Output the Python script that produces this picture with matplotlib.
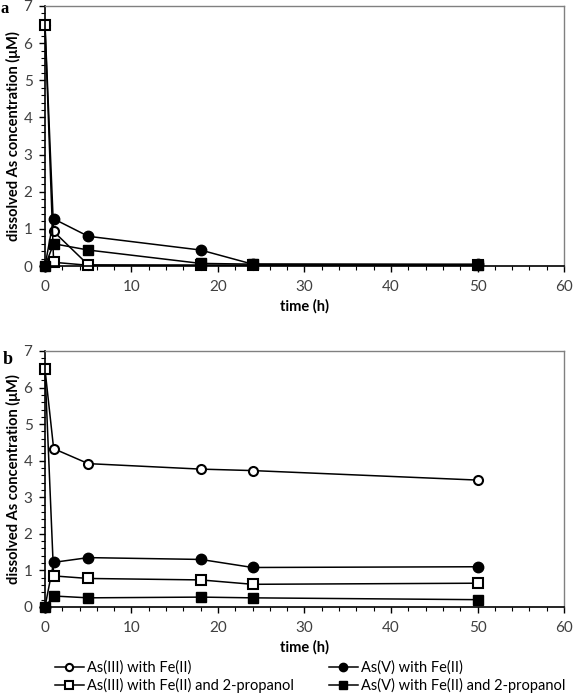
import matplotlib.pyplot as plt
from matplotlib.ticker import MultipleLocator

plt.rcParams['font.family'] = ['Lato', 'DejaVu Sans']

time_h = [0, 1, 5, 18, 24, 50]

# panel a
a_as3_fe = [6.5, 0.93, 0.03, 0.02, 0.02, 0.02]
a_as5_fe = [0.0, 1.27, 0.80, 0.43, 0.05, 0.05]
a_as3_fe_prop = [6.5, 0.10, 0.02, 0.02, 0.02, 0.02]
a_as5_fe_prop = [0.0, 0.60, 0.43, 0.07, 0.05, 0.03]

# panel b
b_as3_fe = [6.5, 4.33, 3.92, 3.77, 3.73, 3.47]
b_as5_fe = [0.0, 1.22, 1.35, 1.30, 1.08, 1.10]
b_as3_fe_prop = [6.5, 0.85, 0.78, 0.74, 0.62, 0.65]
b_as5_fe_prop = [0.0, 0.30, 0.25, 0.27, 0.25, 0.20]

labels = ['As(III) with Fe(II)', 'As(V) with Fe(II)',
          'As(III) with Fe(II) and 2-propanol', 'As(V) with Fe(II) and 2-propanol']

styles = [
    dict(marker='o', mfc='white', mec='black', mew=1.5, ms=6.5),
    dict(marker='o', mfc='black', mec='black', mew=1.0, ms=7.5),
    dict(marker='s', mfc='white', mec='black', mew=1.5, ms=6.5),
    dict(marker='s', mfc='black', mec='black', mew=1.0, ms=7),
]

fig = plt.figure(figsize=(5.79, 6.96), dpi=100)
ax_a = fig.add_axes([0.0777, 0.6178, 0.8964, 0.3736])
ax_b = fig.add_axes([0.0777, 0.1279, 0.8964, 0.3678])

handles = []
for ax, series in [(ax_a, [a_as3_fe, a_as5_fe, a_as3_fe_prop, a_as5_fe_prop]),
                   (ax_b, [b_as3_fe, b_as5_fe, b_as3_fe_prop, b_as5_fe_prop])]:
    hs = []
    for vals, st, lab in zip(series, styles, labels):
        h, = ax.plot(time_h, vals, color='black', lw=1.1, label=lab,
                     clip_on=False, **st)
        hs.append(h)
    handles = hs
    ax.set_xlim(0, 60)
    ax.set_ylim(0, 7)
    ax.xaxis.set_major_locator(MultipleLocator(10))
    ax.xaxis.set_minor_locator(MultipleLocator(2))
    ax.yaxis.set_major_locator(MultipleLocator(1))
    ax.yaxis.set_minor_locator(MultipleLocator(0.2))
    ax.tick_params(which='major', direction='out', length=4, width=1,
                   labelsize=11, colors='black', labelcolor='#404040')
    ax.tick_params(which='minor', direction='out', length=3, width=0.8)
    ax.tick_params(axis='x', pad=6)
    ax.tick_params(axis='y', pad=5)
    for s in ['left', 'bottom']:
        ax.spines[s].set_color('black')
        ax.spines[s].set_linewidth(1.2)
    for s in ['top', 'right']:
        ax.spines[s].set_color('#808080')
        ax.spines[s].set_linewidth(1.0)
    ax.set_xlabel('time (h)', fontweight='bold', fontsize=10.5, labelpad=4)
    ax.set_ylabel('dissolved As concentration (\u03bcM)', fontweight='bold',
                  fontsize=10.5, labelpad=2)

fig.text(0.001, 0.999, 'a', fontsize=12, fontweight='bold',
         family='Liberation Serif', ha='left', va='top')
fig.text(0.005, 1 - 351 / 696, 'b', fontsize=13, fontweight='bold',
         family='Liberation Serif', ha='left', va='top')

order = [handles[0], handles[2], handles[1], handles[3]]
fig.legend(order, [h.get_label() for h in order], ncol=2, frameon=False,
           loc='lower left', bbox_to_anchor=(0.072, -0.014), fontsize=10.5,
           handlelength=2.0, handletextpad=0.2, columnspacing=2.4,
           labelspacing=0.2, markerscale=0.8)

fig.savefig('out.png', dpi=100)
